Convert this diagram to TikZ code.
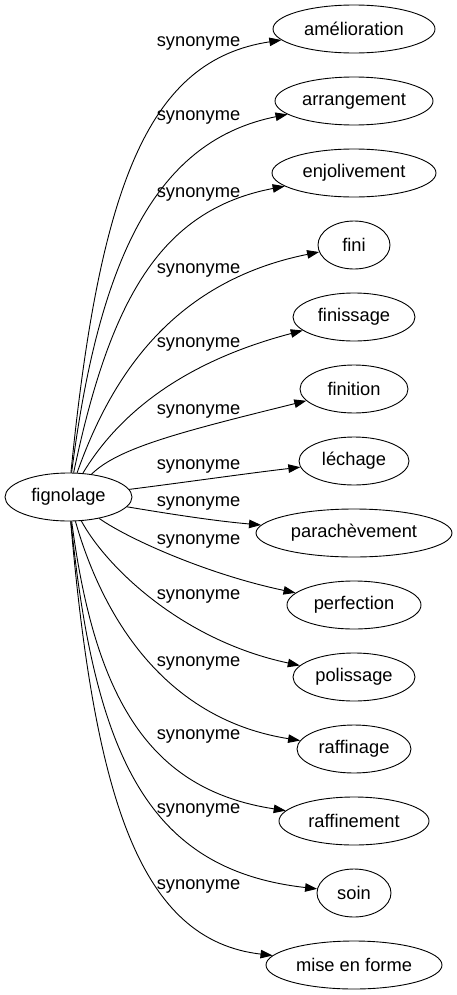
\documentclass[tikz,border=0pt]{standalone}
\usepackage{fontspec}
\setmainfont{Liberation Sans}
\usetikzlibrary{shapes.geometric,arrows.meta}
\tikzset{
  word/.style={draw, ellipse, inner sep=0pt, minimum height=48bp, line width=0.9bp,
    font=\fontsize{18.3bp}{20bp}\selectfont},
  rel/.style={inner sep=0pt, font=\fontsize{18.3bp}{20bp}\selectfont},
  link/.style={line width=0.9bp, -{Triangle[length=12bp,width=8.5bp]}},
}
\begin{document}
\begin{tikzpicture}[x=1bp,y=-1bp]
\useasboundingbox (0,0) rectangle (457,995);
\node[word, minimum width=127bp] (fig) at (68.5,497) {fignolage};
\node[word, minimum width=162bp] (t1) at (354,29) {amélioration};
\node[word, minimum width=158bp] (t2) at (354,101) {arrangement};
\node[word, minimum width=164bp] (t3) at (354,173) {enjolivement};
\node[word, minimum width=72bp] (t4) at (354,245) {fini};
\node[word, minimum width=122bp] (t5) at (354,317) {finissage};
\node[word, minimum width=108bp] (t6) at (354,389) {finition};
\node[word, minimum width=110bp] (t7) at (354,461) {léchage};
\node[word, minimum width=196bp] (t8) at (354,533) {parachèvement};
\node[word, minimum width=134bp] (t9) at (354,605) {perfection};
\node[word, minimum width=122bp] (t10) at (354,677) {polissage};
\node[word, minimum width=114bp] (t11) at (354,749) {raffinage};
\node[word, minimum width=150bp] (t12) at (354,821) {raffinement};
\node[word, minimum width=74bp] (t13) at (354,893) {soin};
\node[word, minimum width=176bp] (t14) at (354,965) {mise en forme};

\node[rel] (l1) at (198.5,43) {synonyme};
\node[rel] (l2) at (198.5,117) {synonyme};
\node[rel] (l3) at (198.5,194) {synonyme};
\node[rel] (l4) at (198.5,270) {synonyme};
\node[rel] (l5) at (198.5,344) {synonyme};
\node[rel] (l6) at (198.5,411) {synonyme};
\node[rel] (l7) at (198.5,466) {synonyme};
\node[rel] (l8) at (198.5,503) {synonyme};
\node[rel] (l9) at (198.5,541) {synonyme};
\node[rel] (l10) at (198.5,596) {synonyme};
\node[rel] (l11) at (198.5,663) {synonyme};
\node[rel] (l12) at (198.5,736) {synonyme};
\node[rel] (l13) at (198.5,810) {synonyme};
\node[rel] (l14) at (198.5,886) {synonyme};

\draw[link] (fig) .. controls (100,180) and (150,60) .. (t1);
\draw[link] (fig) .. controls (100,250) and (160,140) .. (t2);
\draw[link] (fig) .. controls (110,300) and (160,210) .. (t3);
\draw[link] (fig) .. controls (110,380) and (170,282) .. (t4);
\draw[link] (fig) .. controls (115,420) and (175,364) .. (t5);
\draw[link] (fig) .. controls (118,448) and (180,432) .. (t6);
\draw[link] (fig) .. controls (180,483) and (250,473) .. (t7);
\draw[link] (fig) .. controls (170,514) and (215,521) .. (t8);
\draw[link] (fig) .. controls (130,540) and (210,575) .. (t9);
\draw[link] (fig) .. controls (105,565) and (180,640) .. (t10);
\draw[link] (fig) .. controls (105,625) and (170,720) .. (t11);
\draw[link] (fig) .. controls (95,700) and (150,790) .. (t12);
\draw[link] (fig) .. controls (95,760) and (150,870) .. (t13);
\draw[link] (fig) .. controls (95,800) and (140,940) .. (t14);
\end{tikzpicture}
\end{document}
